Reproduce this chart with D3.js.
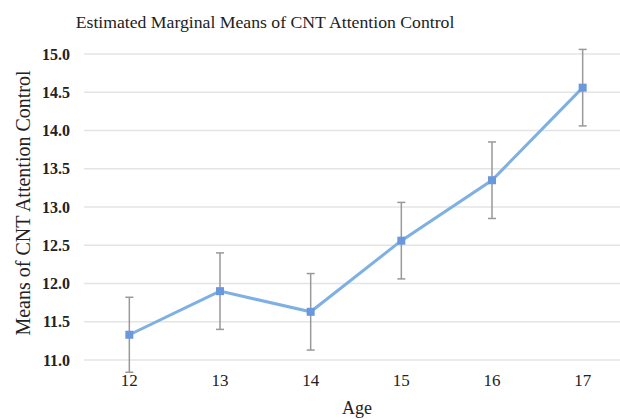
<!DOCTYPE html>
<html>
<head>
<meta charset="utf-8">
<script src="https://cdn.jsdelivr.net/npm/d3@7"></script>
<style>
  body { margin: 0; background: #fff; }
  text { font-family: "Liberation Serif", "DejaVu Serif", serif; fill: #222; }
</style>
</head>
<body>
<div id="chart"></div>
<script>
// data
const ages = ["12", "13", "14", "15", "16", "17"];
const means = [11.33, 11.90, 11.63, 12.56, 13.35, 14.56];
const errors = [0.49, 0.50, 0.50, 0.50, 0.50, 0.50];
const yTicks = [11.0, 11.5, 12.0, 12.5, 13.0, 13.5, 14.0, 14.5, 15.0];

const width = 620;
const height = 419;
const margin = { top: 54, right: -8, bottom: 59, left: 84 };

const svg = d3.select("#chart")
    .append("svg")
    .attr("width", width)
    .attr("height", height);

// scales
const xScale = d3.scaleBand()
    .domain(ages)
    .range([margin.left, width - margin.right]);

const yScale = d3.scaleLinear()
    .domain([11, 15])
    .range([height - margin.bottom, margin.top]);

const cx = d => xScale(d) + xScale.bandwidth() / 2;

// gridlines
svg.append("g")
    .selectAll("line")
    .data(yTicks)
    .enter()
    .append("line")
    .attr("x1", margin.left)
    .attr("x2", width)
    .attr("y1", d => yScale(d))
    .attr("y2", d => yScale(d))
    .attr("stroke", "#e4e4e4")
    .attr("stroke-width", 1.5);

// y axis labels
const yAxis = svg.append("g")
    .attr("transform", `translate(${margin.left - 14},0)`)
    .call(d3.axisLeft(yScale).tickValues(yTicks).tickFormat(d3.format(".1f")).tickSize(0).tickPadding(0))
    .attr("font-family", "Liberation Serif")
    .attr("font-size", 16);
yAxis.select(".domain").remove();
yAxis.selectAll("text")
    .attr("font-weight", "bold")
    .attr("fill", "#333");

// x axis labels
const xAxis = svg.append("g")
    .attr("transform", `translate(0,${height - margin.bottom + 14})`)
    .call(d3.axisBottom(xScale).tickSize(0).tickPadding(0))
    .attr("font-family", "Liberation Serif")
    .attr("font-size", 17);
xAxis.select(".domain").remove();
xAxis.selectAll("text")
    .attr("fill", "#222");

// error bars
const errG = svg.append("g");
ages.forEach((a, i) => {
    const x = cx(a);
    const y1 = yScale(means[i] + errors[i]);
    const y2 = yScale(means[i] - errors[i]);
    errG.append("line").attr("x1", x).attr("x2", x).attr("y1", y1).attr("y2", y2)
        .attr("stroke", "#999").attr("stroke-width", 1.5);
    [y1, y2].forEach(y => {
        errG.append("line").attr("x1", x - 4).attr("x2", x + 4).attr("y1", y).attr("y2", y)
            .attr("stroke", "#999").attr("stroke-width", 1.5);
    });
});

// line
const line = d3.line()
    .x((d, i) => cx(ages[i]))
    .y(d => yScale(d));

svg.append("path")
    .datum(means)
    .attr("d", line)
    .attr("fill", "none")
    .attr("stroke", "#7eb0e4")
    .attr("stroke-width", 3);

// markers
svg.selectAll(".pt")
    .data(means)
    .enter()
    .append("rect")
    .attr("class", "pt")
    .attr("x", (d, i) => cx(ages[i]) - 4)
    .attr("y", d => yScale(d) - 4)
    .attr("width", 8)
    .attr("height", 8)
    .attr("fill", "#6a98dc");

// title
svg.append("text")
    .attr("x", 265)
    .attr("y", 28)
    .attr("text-anchor", "middle")
    .style("font-size", "17.7px")
    .text("Estimated Marginal Means of CNT Attention Control");

// axis titles
svg.append("text")
    .attr("x", 357)
    .attr("y", 414)
    .attr("text-anchor", "middle")
    .style("font-size", "18px")
    .text("Age");

svg.append("text")
    .attr("transform", "rotate(-90)")
    .attr("x", -203)
    .attr("y", 30)
    .attr("text-anchor", "middle")
    .style("font-size", "20px")
    .text("Means of CNT Attention Control");
</script>
</body>
</html>
